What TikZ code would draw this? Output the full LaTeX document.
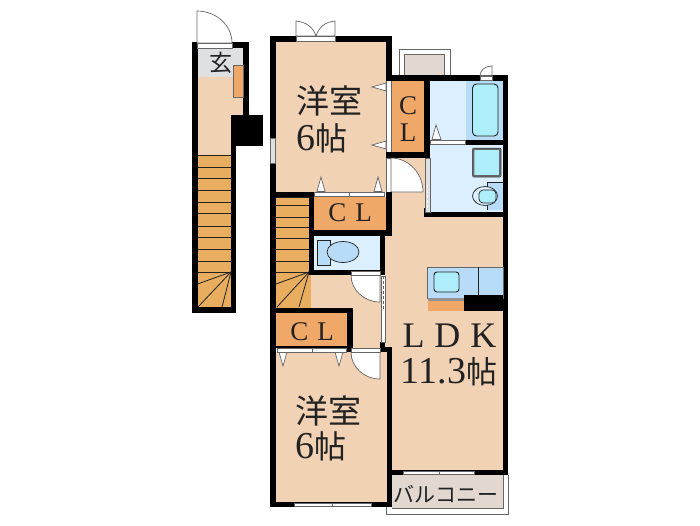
\documentclass[tikz,border=0pt]{standalone}
\usepackage{fontspec}
\setmainfont{Liberation Serif}
\newfontfamily\cjk{Noto Sans CJK JP}
\definecolor{floorc}{HTML}{F2D2B4}
\definecolor{clc}{HTML}{EFA868}
\definecolor{stairc}{HTML}{E9AD5F}
\definecolor{wet}{HTML}{DCEFFF}
\definecolor{wetd}{HTML}{B8DCF7}
\definecolor{cyanc}{HTML}{AEEEFB}
\definecolor{entry}{HTML}{DFE0E2}
\definecolor{balc}{HTML}{E2D8CF}
\definecolor{lineg}{HTML}{666666}
\definecolor{inkb}{HTML}{222222}
\tikzset{
  wall/.style={fill=black,draw=none},
  floorr/.style={fill=floorc,draw=none},
  closet/.style={fill=clc,draw=none},
  strip/.style={fill=white,draw=lineg,line width=.5pt},
  leaf/.style={fill=white,draw=lineg,line width=.7pt},
  tread/.style={draw=inkb,line width=.8pt},
  fixture/.style={draw=inkb,line width=.7pt},
  bigt/.style={font=\cjk\fontsize{33}{33}\selectfont,inner sep=0pt,text=inkb},
  numt/.style={font=\fontsize{38}{38}\selectfont,inner sep=0pt,text=inkb},
  clt/.style={font=\fontsize{27}{27}\selectfont,inner sep=0pt,text=inkb},
}
\begin{document}
\begin{tikzpicture}[x=1pt,y=-1pt]
\useasboundingbox (0,0) rectangle (700,525);
\fill[white] (0,0) rectangle (700,525);
% balconies
\draw[lineg,line width=.8pt] (399,75) -- (399,49) -- (450,49) -- (450,75);
\draw[lineg,line width=.8pt,fill=balc] (404,75) -- (404,54) -- (444,54) -- (444,75);
\fill[balc] (392,475) rectangle (503,508);
\draw[lineg,line width=.8pt] (392,508.5) -- (503,508.5) -- (503,475);
\draw[lineg,line width=1pt] (386.5,507) -- (386.5,514) -- (508,514) -- (508,475);
% left unit
\fill[wall] (192,42) rectangle (249,115);
\fill[wall] (192,115) rectangle (236,313);
\fill[wall] (231,115) rectangle (263,146);
\fill[floorr] (197.5,48) rectangle (243,115);
\fill[floorr] (197.5,115) rectangle (231,155);
\fill[entry] (197.5,48) rectangle (243,77);
\fill[closet,draw=lineg,line width=.3pt] (233,65) rectangle (243,97);
\fill[wall] (231,115) rectangle (243,146);
\fill[stairc] (197.5,155) rectangle (231,307);
\foreach \y in {155,167,178,190,202,213,226,237,249,261,272}
  \draw[tread] (197.5,\y) -- (231,\y);
\draw[tread] (231,272) -- (197.5,284);
\draw[tread] (231,272) -- (198,307);
\draw[tread] (231,272) -- (222,307);
% entry door
\draw[leaf] (197,43) -- (197,11) arc[start angle=-90,end angle=0,x radius=35,y radius=32] -- cycle;
\draw[strip] (197,43) rectangle (232,48);
% main walls (outer silhouette)
\fill[wall] (270,36) rectangle (392,42);
\fill[wall] (270,36) rectangle (276,507);
\fill[wall] (386,36) rectangle (392,81);
\fill[wall] (386,75) rectangle (508,81);
\fill[wall] (503,75) rectangle (508,475);
\fill[wall] (387,470) rectangle (508,475);
\fill[wall] (387,347) rectangle (392,507);
\fill[wall] (270,502) rectangle (392,507);
% room 1
\fill[floorr] (276,42) rectangle (386,192);
% stairs and hall
\fill[wall] (270,192) rectangle (314,197);
\fill[stairc] (276,197) rectangle (309,275);
\fill[stairc] (276,275) rectangle (311,308);
\foreach \y in {205,217,227,238,249,261,272}
  \draw[tread] (276,\y) -- (309,\y);
\draw[tread] (276,197) -- (309,197);
\draw[tread] (309,272) -- (276,284);
\draw[tread] (309,272) -- (277,307);
\draw[tread] (309,272) -- (299,307);
\fill[floorr] (311,275) rectangle (381,308);
\fill[floorr] (353,308) rectangle (381,348);
% CL 2
\fill[closet] (314,197) rectangle (386,230);
\fill[wall] (309,192) rectangle (314,275);
\fill[wall] (309,230) rectangle (392,236);
\fill[wall] (386,192) rectangle (392,236);
% toilet
\fill[wet] (314,236) rectangle (380,270);
\draw[fixture,fill=wetd] (317,240) rectangle (330,265);
\draw[fixture,fill=wetd] (343,252) ellipse[x radius=16,y radius=10.5];
\fill[wall] (309,270) rectangle (385,275);
\fill[wall] (380,236) rectangle (385,275);
% CL bottom
\fill[wall] (270,308) rectangle (353,313);
\fill[wall] (347,308) rectangle (353,352);
\fill[closet] (276,313) rectangle (347,346);
\fill[wall] (270,346) rectangle (353,348);
% room 3
\fill[floorr] (276,352) rectangle (387,502);
\fill[wall] (347,348) rectangle (351,352);
\fill[wall] (380,342) rectangle (392,352);
% LDK
\fill[floorr] (392,216) rectangle (503,470);
\fill[floorr] (385,236) rectangle (392,347);
\fill[floorr] (392,158) rectangle (425,216);
% CL 1
\fill[closet] (392,81) rectangle (424,152);
\fill[wall] (386,152) rectangle (430,158);
\fill[wall] (424,81) rectangle (430,158);
\fill[white] (386,81) rectangle (392,152);
\draw[lineg,line width=.4pt] (386,81) -- (386,152);
\draw[lineg,line width=.4pt] (391.5,81) -- (391.5,152);
% bath
\fill[wet] (430,81) rectangle (503,212);
\fill[wetd] (466,81) rectangle (503,140);
\draw[inkb,line width=.9pt,fill=cyanc,rounded corners=4pt] (472.5,84) rectangle (498,136);
\fill[wall] (465,140) rectangle (503,145);
\draw[strip] (430,140.5) rectangle (465,144.5);
\draw[lineg,line width=1.6pt,fill=cyanc,rounded corners=1pt] (473.5,149) rectangle (500,176);
\draw[inkb,line width=.5pt,rounded corners=1pt] (472.5,148) rectangle (501,177);
\fill[wetd] (487,182) -- (503,182) -- (503,210) -- (487,210) -- cycle;
\draw[fixture] (487,210) -- (487,205);
\draw[fixture] (487,187) -- (487,182) -- (503,182);
\draw[fixture,fill=wet] (485,196) ellipse[x radius=12.5,y radius=9.5];
\draw[fixture,fill=cyanc,rounded corners=4pt] (479,190) rectangle (496,203);
\fill[wall] (424,212) rectangle (508,217);
% bath side door
\fill[wall] (424,208) rectangle (430,217);
\draw[lineg,fill=entry,line width=.5pt] (425,158) rectangle (430,212);
\draw[white,line width=1pt,dash pattern=on 3pt off 2pt] (427.5,185) -- (427.5,210);
% hall door to LDK
\draw[strip] (386,158) rectangle (391,192);
\draw[leaf] (391,158) arc[start angle=-90,end angle=0,x radius=32,y radius=34] -- (391,192) -- cycle;
\fill[wall] (386,192) rectangle (392,197);
% kitchen
\draw[lineg,line width=.5pt,fill=wetd] (427.5,267) rectangle (503,298);
\draw[inkb,line width=.6pt] (478,267) -- (478,295);
\draw[inkb,line width=.9pt,fill=cyanc,rounded corners=3pt] (434,272) rectangle (459,292);
\fill[lineg!70] (427.5,298) rectangle (464,300.5);
\fill[closet] (427.5,300.5) rectangle (464,310.5);
\fill[wall] (464,295) rectangle (503,311);
% sliding door strip hall/LDK
\draw[lineg,fill=white,line width=.5pt] (381,276) rectangle (385,342);
\draw[lineg,line width=.6pt,dash pattern=on 3pt off 2pt] (383,276) -- (383,310);
% small door NE
\draw[leaf] (492,75.5) -- (492,66) arc[start angle=-90,end angle=-180,x radius=12,y radius=9.5] -- cycle;
\draw[strip] (480,76) rectangle (492,80);
% folding door strips & triangles
\foreach \y in {87,145}
  \draw[leaf] (386,\y-4) -- (372,\y) -- (386,\y+4) -- cycle;
\draw[leaf] (432,139.5) -- (436,125) -- (441,139.5) -- cycle;
\foreach \x in {321,378}
  \draw[leaf] (\x-4,191.5) -- (\x,177) -- (\x+4,191.5) -- cycle;
\draw[strip] (314.5,192) rectangle (349,196);
\draw[strip] (349,192) rectangle (384,196);
\foreach \x in {283,339}
  \draw[leaf] (\x-4,352) -- (\x,366) -- (\x+4,352) -- cycle;
\draw[strip] (277,348) rectangle (312,352);
\draw[strip] (312,348) rectangle (346,352);
% hall doors
\draw[leaf] (351,275) arc[start angle=180,end angle=90,x radius=29,y radius=27] -- (380,275) -- cycle;
\draw[strip] (351,271) rectangle (380,275);
\draw[leaf] (351,352) -- (380,352) -- (380,379) arc[start angle=90,end angle=180,x radius=29,y radius=27] -- cycle;
\draw[strip] (351,348) rectangle (380,352);
% french door top
\draw[leaf] (296,36) -- (296,21) .. controls (306,22) and (313,27) .. (316,36) -- cycle;
\draw[leaf] (335,36) -- (335,21) .. controls (325,22) and (319,27) .. (316,36) -- cycle;
\draw[strip] (296,36.5) rectangle (335,41);
% windows
\draw[lineg,fill=entry,line width=.5pt] (270,138) rectangle (275,163);
\draw[strip] (403,471) rectangle (439,474.5);
\draw[strip] (439,471) rectangle (474,474.5);
\draw[strip] (294,503) rectangle (332,506.5);
\draw[strip] (332,503) rectangle (371,506.5);
% labels
\node[bigt,font=\cjk\fontsize{23}{23}\selectfont] (genkan) at (220.5,63) {玄};
\node[bigt,anchor=west] (room1a) at (296.5,101) {洋室};
\node[numt,anchor=west] (room1b) at (296,138) {6{\cjk\fontsize{32}{32}\selectfont 帖}};
\node[bigt,anchor=west] (room3a) at (295.5,411) {洋室};
\node[numt,anchor=west] (room3b) at (295,446) {6{\cjk\fontsize{32}{32}\selectfont 帖}};
\node[clt] (cl1a) at (408,106) {C};
\node[clt] (cl1b) at (408,133) {L};
\node[clt] (cl2) at (350,213) {C\hspace{9pt}L};
\node[clt] (cl3) at (312,332) {C\hspace{9pt}L};
\node[font=\fontsize{36}{36}\selectfont,inner sep=0pt,text=inkb] (ldk) at (449.5,336) {L\hspace{10pt}D\hspace{10pt}K};
\node[numt] (ldkb) at (449,372) {11.3{\cjk\fontsize{31}{31}\selectfont 帖}};
\node[font=\cjk\fontsize{21}{21}\selectfont,inner sep=0pt,text=inkb] (balk) at (446,494) {バルコニー};
\end{tikzpicture}
\end{document}
